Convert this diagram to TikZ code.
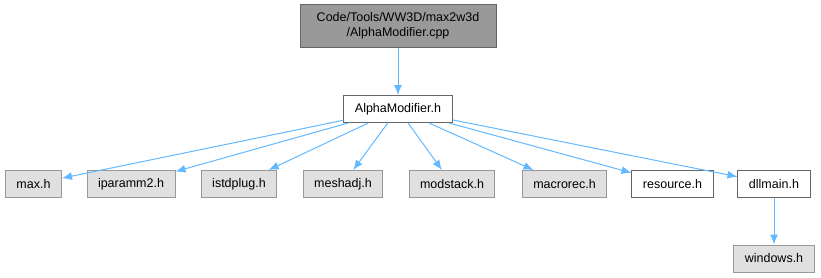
\documentclass[tikz,border=0pt]{standalone}
\usepackage{fontspec}
\setmainfont{Liberation Sans}
\usepackage{xcolor}
\usetikzlibrary{positioning}
\usetikzlibrary{arrows.meta}

\definecolor{edgeblue}{HTML}{63B8FF}
\definecolor{sysfill}{HTML}{E0E0E0}
\definecolor{sysline}{HTML}{999999}
\definecolor{rootfill}{HTML}{999999}
\definecolor{darkline}{HTML}{666666}

\tikzset{
        header/.style={
          draw=darkline, fill=white, line width=1pt,
          minimum height=27pt, inner xsep=11pt, inner ysep=0pt,
          font=\fontsize{12.5}{15}\selectfont
          },
        sysheader/.style={header, draw=sysline, fill=sysfill},
        rootfile/.style={header, draw=darkline, fill=rootfill, align=center, minimum height=43pt, minimum width=196pt},
        incl/.style={draw=edgeblue, line width=1pt, -{Latex[length=10pt,width=8pt]}},
}

\begin{document}
\begin{tikzpicture}[x=1pt, y=-1pt]
      \useasboundingbox (0,0) rectangle (821,277);
      % source file and its header
      \node[rootfile] (cpp) at (398,25.5) {Code/Tools/WW3D/max2w3d\\/AlphaModifier.cpp};
      \node[header] (alpha) at (398,109) {AlphaModifier.h};

      % included headers
      \node[sysheader] (max)      at (33.5,184)  {max.h};
      \node[sysheader] (iparamm)  at (131,184)   {iparamm2.h};
      \node[sysheader] (istdplug) at (239,184)   {istdplug.h};
      \node[sysheader] (meshadj)  at (343,184)   {meshadj.h};
      \node[sysheader] (modstack) at (452,184)   {modstack.h};
      \node[sysheader] (macrorec) at (564.5,184) {macrorec.h};
      \node[header]    (resource) at (672.5,184) {resource.h};
      \node[header]    (dllmain)  at (774,184)   {dllmain.h};
      \node[sysheader] (windows)  at (774,258.5) {windows.h};

      % EDGES
      \draw[incl] (cpp) -- (alpha);
      \draw[incl] (alpha) -- (max);
      \draw[incl] (alpha) -- (iparamm);
      \draw[incl] (alpha) -- (istdplug);
      \draw[incl] (alpha) -- (meshadj);
      \draw[incl] (alpha) -- (modstack);
      \draw[incl] (alpha) -- (macrorec);
      \draw[incl] (alpha) -- (resource);
      \draw[incl] (alpha) -- (dllmain);
      \draw[incl] (dllmain) -- (windows);
\end{tikzpicture}
\end{document}
